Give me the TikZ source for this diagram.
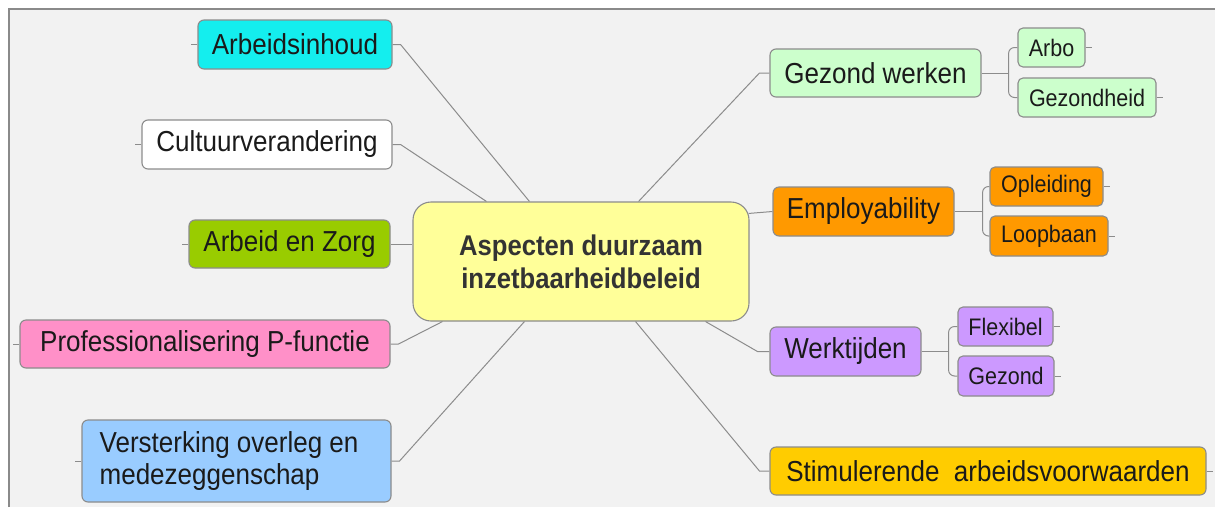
\documentclass[tikz,border=0pt]{standalone}
\usepackage{fontspec}
\setmainfont{Liberation Sans}[FakeStretch=0.9]
\usetikzlibrary{calc}
\definecolor{bgc}{HTML}{F2F2F2}
\definecolor{framec}{HTML}{8A8A8A}
\definecolor{boxline}{HTML}{8C8C8C}
\definecolor{linec}{HTML}{8C8C8C}
\definecolor{txt}{HTML}{1A1A1A}
\definecolor{cyanbox}{HTML}{14EEEE}
\definecolor{olivebox}{HTML}{99CC00}
\definecolor{pinkbox}{HTML}{FF90C8}
\definecolor{bluebox}{HTML}{99CCFF}
\definecolor{yelbox}{HTML}{FFFF99}
\definecolor{greenbox}{HTML}{CCFFCC}
\definecolor{orangebox}{HTML}{FF9900}
\definecolor{purplebox}{HTML}{CC99FF}
\definecolor{goldbox}{HTML}{FFCC00}
\begin{document}
\begin{tikzpicture}[x=1pt,y=-1pt,
  box/.style={draw=boxline, line width=1.1pt, rounded corners=6pt, inner sep=0pt,
    font=\fontsize{28.9}{32}\selectfont, text=txt},
  sub/.style={box, rounded corners=5pt, font=\fontsize{23.9}{26}\selectfont},
  link/.style={draw=linec, line width=1pt},
  fork/.style={link, rounded corners=6pt}]
\useasboundingbox (0,0) rectangle (1215,507);
\fill[bgc] (9,9) rectangle (1215,507);
\draw[framec, line width=1.2pt] (9,507) -- (9,9) -- (1215,9);

% centre
\node[box, fill=yelbox, minimum width=336pt, minimum height=119pt, rounded corners=18pt,
  align=center, text=black!80, font=\bfseries\fontsize{28.5}{33}\selectfont] (ce) at (581,261.5)
  {Aspecten duurzaam\\inzetbaarheidbeleid};

% left branches
\node[box, fill=cyanbox, minimum width=194pt, minimum height=49pt] (ai) at (295,44.5) {Arbeidsinhoud};
\node[box, fill=white, minimum width=250pt, minimum height=49pt] (cu) at (267,144.5) {Cultuurverandering};
\node[box, fill=olivebox, minimum width=201pt, minimum height=48pt] (az) at (289.5,244) {Arbeid en Zorg};
\node[box, fill=pinkbox, minimum width=370pt, minimum height=48pt] (pf) at (205,344) {Professionalisering P-functie};
\node[box, fill=bluebox, minimum width=309pt, minimum height=82pt] (vo) at (236.5,461) {};
\node[inner sep=0pt, align=left, anchor=west, text=txt, font=\fontsize{28.9}{32}\selectfont] (votext)
  at ([xshift=18pt]vo.west) {Versterking overleg en\\medezeggenschap};

% right branches
\node[box, fill=greenbox, minimum width=211pt, minimum height=48pt] (gw) at (875.5,73) {Gezond werken};
\node[box, fill=orangebox, minimum width=181pt, minimum height=49pt] (emp) at (863.5,211.5) {Employability};
\node[box, fill=purplebox, minimum width=151pt, minimum height=49pt] (wt) at (845.5,351.5) {Werktijden};
\node[box, fill=goldbox, minimum width=436pt, minimum height=48pt] (sa) at (988,471) {Stimulerende\ \ arbeidsvoorwaarden};

% sub branches
\node[sub, fill=greenbox, minimum width=67pt, minimum height=39pt] (arbo) at (1051.5,47.5) {Arbo};
\node[sub, fill=greenbox, minimum width=138pt, minimum height=39pt] (gzh) at (1087,97.5) {Gezondheid};
\node[sub, fill=orangebox, minimum width=113pt, minimum height=39pt] (opl) at (1046.5,186.5) {Opleiding};
\node[sub, fill=orangebox, minimum width=118pt, minimum height=40pt] (lpb) at (1049,236) {Loopbaan};
\node[sub, fill=purplebox, minimum width=95pt, minimum height=39pt] (flx) at (1005.5,326.5) {Flexibel};
\node[sub, fill=purplebox, minimum width=96pt, minimum height=40pt] (gzd) at (1006,376) {Gezond};

% connectors to centre (left)
\draw[link] (ai.east) -- ++(8,0) -- ([xshift=117pt]ce.north west);
\draw[link] (cu.east) -- ++(8,0) -- ([xshift=74pt]ce.north west);
\draw[link] (az.east) -- (az.east -| ce.west);
\draw[link] (pf.east) -- ++(8,0) -- ([xshift=30pt]ce.south west);
\draw[link] (vo.east) -- ++(8,0) -- ([xshift=112pt]ce.south west);

% connectors to centre (right)
\draw[link] (gw.west) -- ++(-10,0) -- ([xshift=-111pt]ce.north east);
\draw[link] (emp.west) -- ([shift={(-1pt,-12pt)}]ce.north east);
\draw[link] (wt.west) -- ++(-12,0) -- ([xshift=-44pt]ce.south east);
\draw[link] (sa.west) -- ++(-10,0) -- ([xshift=-114pt]ce.south east);

% forks
\coordinate (gwF) at ($(gw.east)+(27,0)$);
\coordinate (empF) at ($(emp.east)+(28,0)$);
\coordinate (wtF) at ($(wt.east)+(27,0)$);
\draw[link] (gw.east) -- (gwF);
\draw[fork] (gwF) |- (arbo.west);
\draw[fork] (gwF) |- (gzh.west);
\draw[link] (emp.east) -- (empF);
\draw[fork] (empF) |- (opl.west);
\draw[fork] (empF) |- (lpb.west);
\draw[link] (wt.east) -- (wtF);
\draw[fork] (wtF) |- (flx.west);
\draw[fork] (wtF) |- (gzd.west);

% outer stubs
\foreach \n in {ai,cu,az,pf,vo}{\draw[link] (\n.west) -- ++(-6,0);}
\foreach \n in {arbo,gzh,opl,lpb,flx,gzd,sa}{\draw[link] (\n.east) -- ++(6,0);}
\end{tikzpicture}
\end{document}
